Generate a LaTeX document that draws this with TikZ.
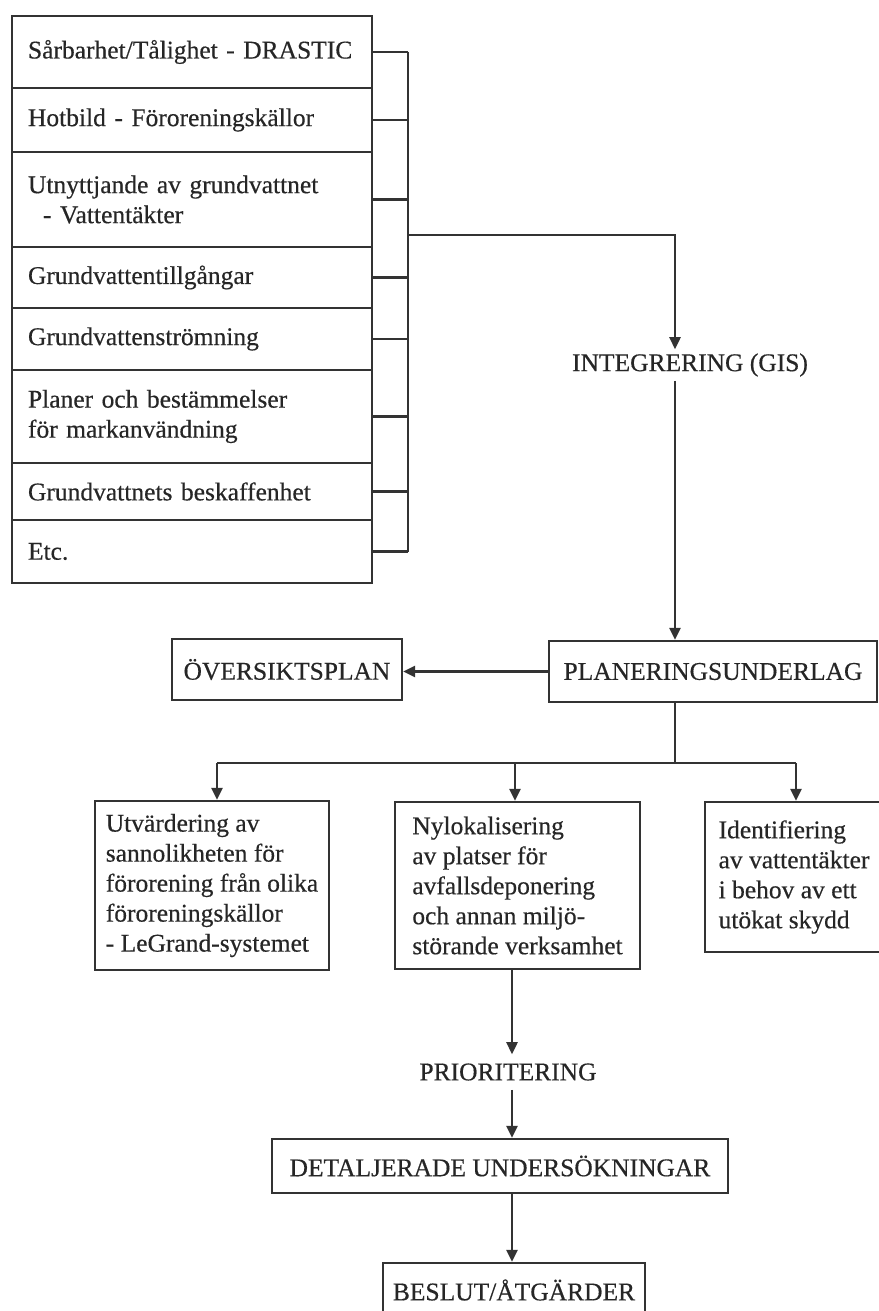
\documentclass[tikz,border=0pt]{standalone}
\usepackage{fontspec}
\setmainfont{Liberation Serif}[FakeBold=0.4]
\usetikzlibrary{arrows.meta}
\definecolor{ink}{HTML}{333333}
\definecolor{txt}{HTML}{262626}
\begin{document}
\begin{tikzpicture}[x=1pt,y=-1pt,
  every node/.style={font=\fontsize{25.5}{30}\selectfont, text=txt},
  row/.style={draw=ink, line width=2.4pt, minimum width=360pt, text width=328pt, inner xsep=16pt, inner ysep=0pt, align=left},
  box/.style={draw=ink, line width=2.4pt, inner sep=0pt, align=left},
  conn/.style={draw=ink, line width=2.4pt},
  arr/.style={conn, -{Triangle[length=12pt,width=11pt]}},
  lbl/.style={inner xsep=2pt, inner ysep=4pt}
]
\useasboundingbox (0,0) rectangle (878,1311);
\fill[white] (0,0) rectangle (878,1311);

% left stack
\node[row, minimum height=72pt] (r1) at (192,52) {Sårbarhet/Tålighet - DRASTIC};
\node[row, minimum height=64pt] (r2) at (192,120) {Hotbild - Föroreningskällor};
\node[row, minimum height=95pt] (r3) at (192,199.5) {Utnyttjande av grundvattnet\\\hspace*{15pt}- Vattentäkter};
\node[row, minimum height=61pt] (r4) at (192,277.5) {Grundvattentillgångar};
\node[row, minimum height=62pt] (r5) at (192,339) {Grundvattenströmning};
\node[row, minimum height=93pt] (r6) at (192,416.5) {Planer och bestämmelser\\för markanvändning};
\node[row, minimum height=57pt] (r7) at (192,491.5) {Grundvattnets beskaffenhet};
\node[row, minimum height=63pt] (r8) at (192,551.5) {Etc.};

% bracket
\coordinate (bx) at (408,0);
\foreach \r in {r1,r2,r3,r4,r5,r6,r7,r8}{
  \draw[conn] (\r.east) -- (\r.east -| bx);
}
\draw[conn] (r1.east -| bx) -- (r8.east -| bx);
\coordinate (jn) at (408,235);
\coordinate (c1) at (675,0);

\node[lbl] (integ) at (690,365) {INTEGRERING (GIS)};
\draw[arr] (jn) -| (integ.north -| c1);

\node[box, minimum width=328pt, minimum height=61pt] (plan) at (713,671.5) {PLANERINGSUNDERLAG};
\node[box, minimum width=230pt, minimum height=61pt] (overs) at (287,669.5) {ÖVERSIKTSPLAN};
\draw[arr] (integ.south -| c1) -- (plan.north -| c1);
\draw[arr] (plan.west) -- (plan.west -| overs.east);

% lower boxes
\node[box, minimum width=234pt, minimum height=169pt] (lbox) at (212,885.5) {Utvärdering av\\sannolikheten för\\förorening från olika\\föroreningskällor\\- LeGrand-systemet};
\node[box, minimum width=245pt, minimum height=167pt] (mbox) at (517.5,885.5) {Nylokalisering\\av platser för\\avfallsdeponering\\och annan miljö-\\störande verksamhet};
\node[box, minimum width=178pt, minimum height=150pt] (rbox) at (794,877) {Identifiering\\av vattentäkter\\i behov av ett\\utökat skydd};

\coordinate (aL) at (217,763);
\coordinate (aM) at (515,763);
\coordinate (aR) at (796,763);
\draw[conn] (plan.south -| c1) -- (aR -| c1);
\draw[conn] (aL) -- (aR);
\draw[arr] (aL) -- (aL |- lbox.north);
\draw[arr] (aM) -- (aM |- mbox.north);
\draw[arr] (aR) -- (aR |- rbox.north);

% bottom chain
\coordinate (cm) at (512,0);
\node[inner xsep=2pt, inner ysep=9pt] (prio) at (508,1072) {PRIORITERING};
\node[box, minimum width=456pt, minimum height=54pt] (det) at (500,1166) {DETALJERADE UNDERSÖKNINGAR};
\node[box, minimum width=262pt, minimum height=54pt] (beslut) at (514,1290) {BESLUT/ÅTGÄRDER};
\draw[arr] (mbox.south -| cm) -- (prio.north -| cm);
\draw[arr] (prio.south -| cm) -- (det.north -| cm);
\draw[arr] (det.south -| cm) -- (beslut.north -| cm);
\end{tikzpicture}
\end{document}
